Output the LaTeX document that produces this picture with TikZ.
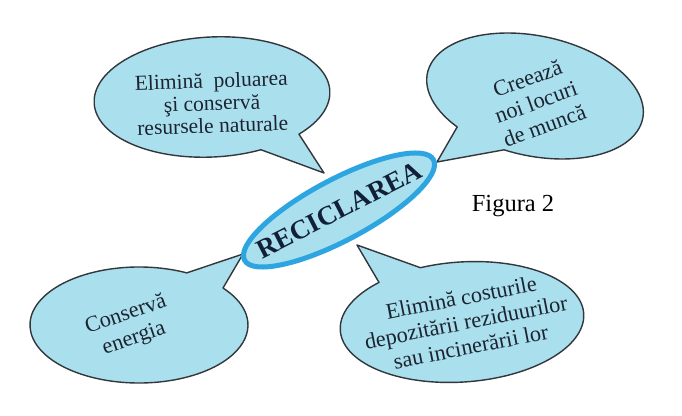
\documentclass[tikz,border=0pt]{standalone}
\usepackage{fontspec}
\setmainfont{Liberation Serif}
\usetikzlibrary{shapes.geometric}
\definecolor{bubfill}{RGB}{170,223,238}
\definecolor{bubline}{RGB}{50,55,60}
\definecolor{ringblue}{RGB}{45,165,225}
\definecolor{txt}{RGB}{28,36,48}
\definecolor{navy}{RGB}{18,32,55}
\begin{document}
\begin{tikzpicture}[x=1pt,y=1pt,
  bubble/.style={fill=bubfill, draw=bubline, line width=1.4pt, line join=round},
  btext/.style={text=txt, font=\fontsize{22.3}{25}\selectfont, align=center, inner sep=0pt}]
\useasboundingbox (0,0) rectangle (682,415);
\fill[white] (0,0) rectangle (682,415);

% tail tips
\coordinate (tipTL) at (324,242);
\coordinate (tipTR) at (437,253);
\coordinate (tipBL) at (243,161);
\coordinate (tipBR) at (357,170);

% top-left bubble
\begin{scope}[shift={(212,318)}, rotate=3]
\draw[bubble] (-44:118 and 60) arc[start angle=-44, end angle=293, x radius=118, y radius=60] -- (tipTL) -- cycle;
\end{scope}
% top-right bubble
\begin{scope}[shift={(535,319)}, rotate=-12]
\draw[bubble] (260:110 and 60) arc[start angle=260, end angle=590.7, x radius=110, y radius=60] -- (tipTR) -- cycle;
\end{scope}
% bottom-left bubble
\begin{scope}[shift={(139,90)}]
\draw[bubble] (64:109 and 58) arc[start angle=64, end angle=399.6, x radius=109, y radius=58] -- (tipBL) -- cycle;
\end{scope}
% bottom-right bubble
\begin{scope}[shift={(462,93)}, rotate=4]
\draw[bubble] (131:122 and 60) arc[start angle=131, end angle=468, x radius=122, y radius=60] -- (tipBR) -- cycle;
\end{scope}

% central ellipse
\node[ellipse, draw=ringblue, line width=5pt, fill=bubfill, inner sep=0pt,
      minimum width=214pt, minimum height=61pt, rotate=28] (rec) at (339,205) {};
\node[rotate=27, inner sep=0pt, text=navy, font=\fontsize{27}{30}\selectfont\bfseries] (rectext) at (rec.center) {RECICLAREA};

% bubble texts
\node[btext, rotate=2, font=\fontsize{21.5}{22.5}\selectfont] (tl) at (212,312) {Elimină\ \ poluarea\\şi conservă\\resursele naturale};
\node[btext, rotate=20] (tr) at (536,313) {Creează\\noi locuri\\de muncă};
\node[btext, rotate=19] (bl) at (130,88) {Conservă\\energia};
\node[btext, rotate=11] (br) at (466,93) {Elimină costurile\\depozitării reziduurilor\\sau incinerării lor};

% caption
\node[anchor=base, inner sep=0pt, font=\fontsize{24.5}{28}\selectfont] (fig) at (513,203) {Figura 2};
\end{tikzpicture}
\end{document}
